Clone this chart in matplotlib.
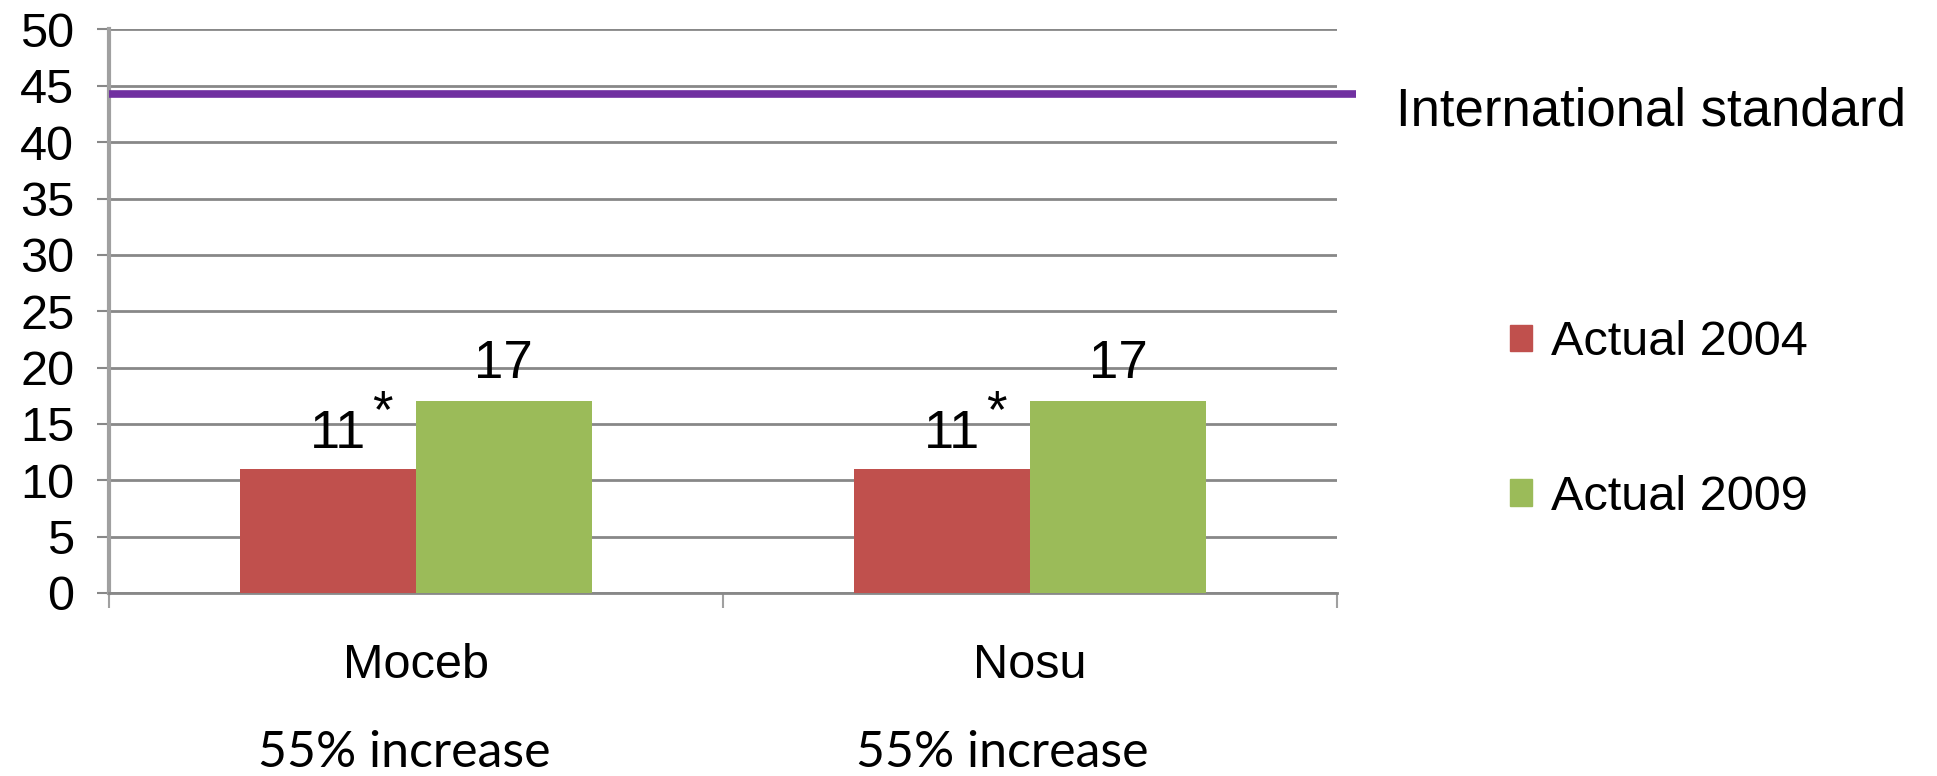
import matplotlib
matplotlib.use('Agg')
import numpy as np
import matplotlib.pyplot as plt
from matplotlib.patches import Patch

# Daten
categories = ['Moceb', 'Nosu']
actual_2004 = [11, 11]
actual_2009 = [17, 17]
standard = 44.3
notes = ['55% increase', '55% increase']
series_names = ['Actual 2004', 'Actual 2009']
standard_name = 'International standard'

red = '#C0504D'
green = '#9BBB59'
purple = '#7030A0'
grey = '#888888'

plt.rcParams['font.family'] = ['Liberation Sans', 'DejaVu Sans']

fig = plt.figure(figsize=(19.37, 7.76), dpi=100)
ax = fig.add_axes([0.0563, 0.236, 0.634, 0.726])

x = np.arange(len(categories))
w = 0.286
b1 = ax.bar(x - w / 2, actual_2004, w, color=red, zorder=3)
b2 = ax.bar(x + w / 2, actual_2009, w, color=green, zorder=3)

# Linie "International standard"
ax.hlines(standard, -0.5, 1.53, color=purple, lw=5.5, zorder=4, clip_on=False)
ax.text(1.596, standard - 1.6, standard_name, fontsize=38, va='center', ha='left')

# Beschriftungen der Balken
for rect, v in zip(b1, actual_2004):
    cx = rect.get_x() + rect.get_width() / 2
    ax.annotate(str(v), (cx, v), xytext=(7, 7), textcoords='offset points',
                ha='center', va='bottom', fontsize=39)
    ax.annotate('*', (cx, v), xytext=(39, 22), textcoords='offset points',
                ha='center', va='bottom', fontsize=38)
for rect, v in zip(b2, actual_2009):
    cx = rect.get_x() + rect.get_width() / 2
    ax.annotate(str(v), (cx, v), xytext=(0, 9), textcoords='offset points',
                ha='center', va='bottom', fontsize=38)

ax.set_ylim(0, 50)
ax.set_xlim(-0.5, 1.5)
ax.set_yticks(np.arange(0, 51, 5))
ax.yaxis.grid(True, color=grey, lw=2, zorder=0)
ax.set_axisbelow(True)

ax.set_xticks([-0.5, 0.5, 1.5])
ax.set_xticklabels([])
ax.set_xticks(x, minor=True)
ax.set_xticklabels(categories, minor=True, fontsize=35)
ax.tick_params(axis='x', which='major', length=11, width=1.5, color='#a0a0a0')
ax.tick_params(axis='x', which='minor', length=0, pad=36)
ax.tick_params(axis='y', length=9, width=1.5, color=grey, pad=16, labelsize=35)

for s in ['top', 'right']:
    ax.spines[s].set_visible(False)
ax.spines['left'].set_color('#a0a0a0')
ax.spines['left'].set_linewidth(3)
ax.spines['bottom'].set_color(grey)
ax.spines['bottom'].set_linewidth(2)

# Text unter den Kategorien
note_shift = [-0.02, -0.045]
for i, n in enumerate(notes):
    ax.text(i + note_shift[i], -0.285, n, transform=ax.get_xaxis_transform(),
            ha='center', va='center', fontsize=36, family=['Lato', 'DejaVu Sans'])

handles = [Patch(color=red), Patch(color=green)]
fig.legend(handles, series_names, loc='upper left', bbox_to_anchor=(0.7796, 0.587),
           frameon=False, fontsize=35, handlelength=0.45, handleheight=0.45,
           handletextpad=0.4, labelspacing=2.25, borderpad=0, borderaxespad=0)

plt.savefig('out.png', dpi=100)
